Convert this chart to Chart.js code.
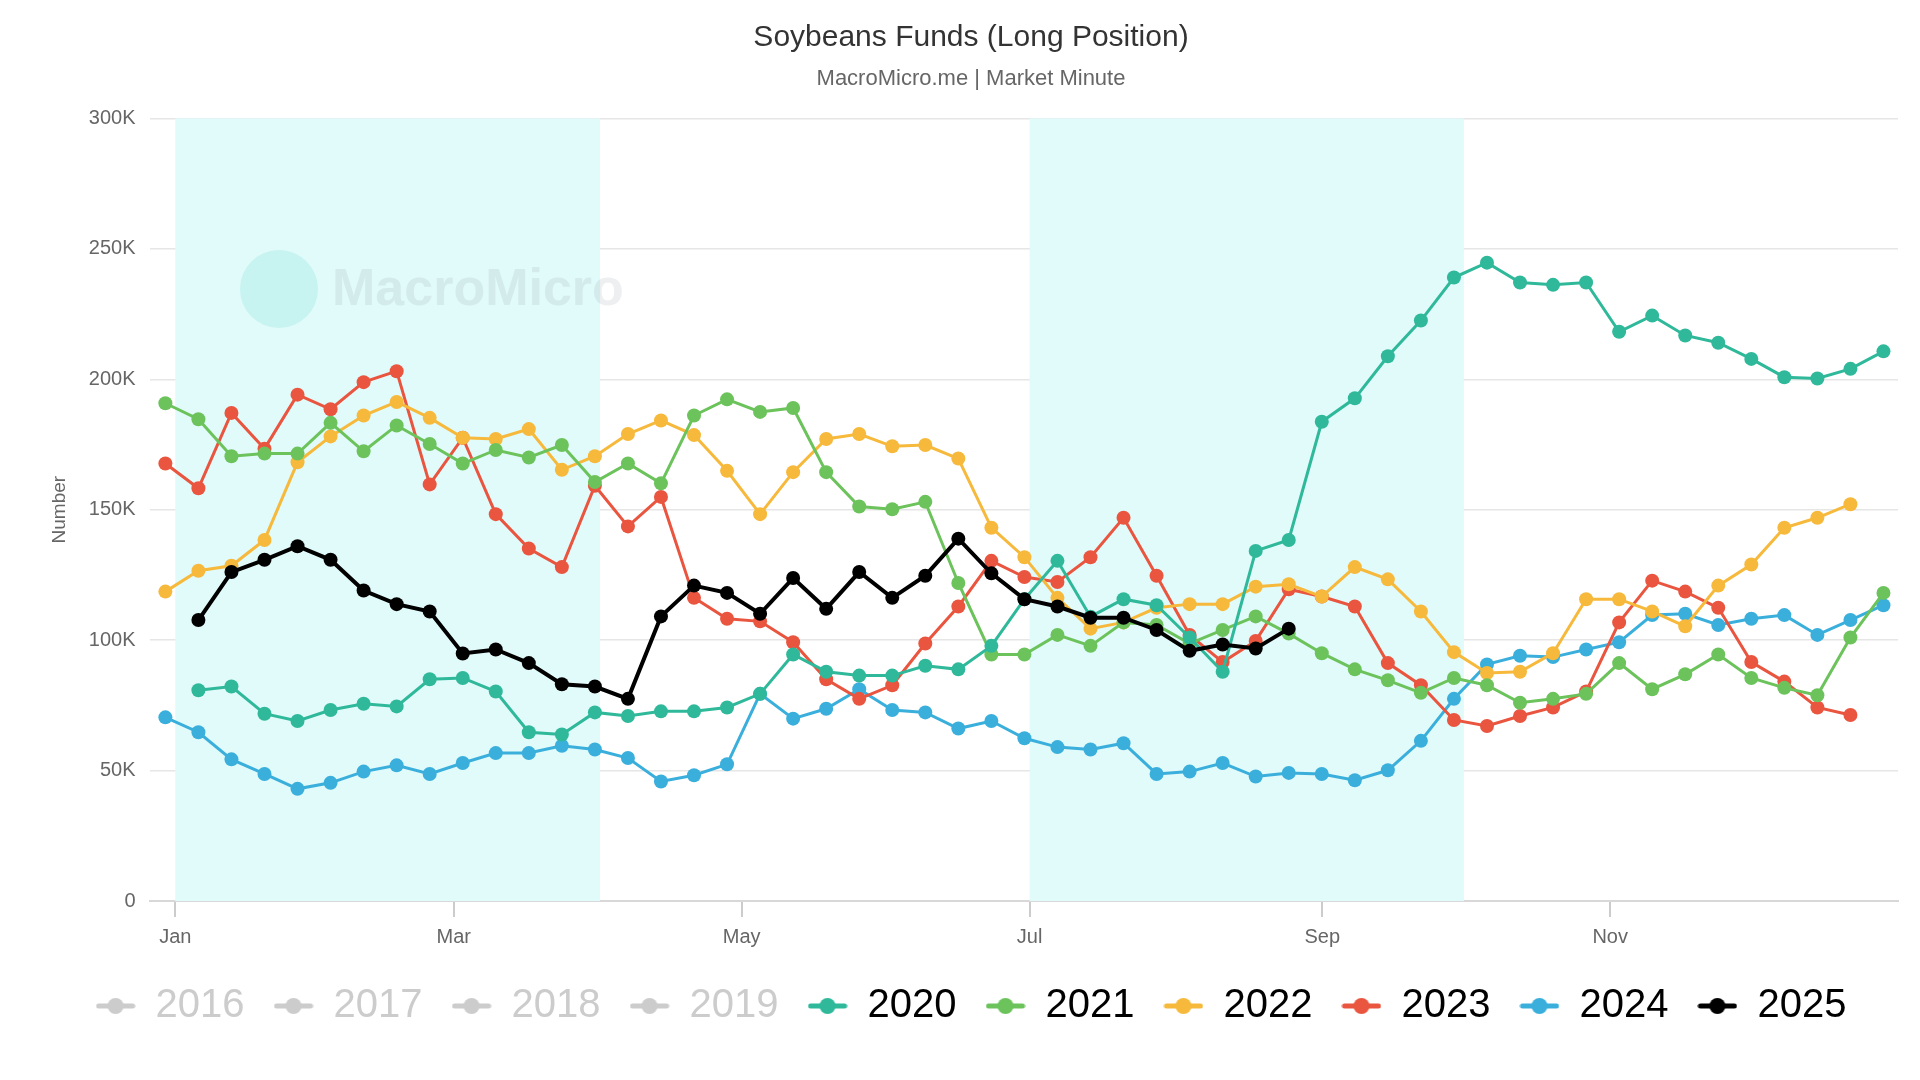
<!DOCTYPE html>
<html>
<head>
<meta charset="utf-8">
<script src="https://cdn.jsdelivr.net/npm/chart.js@4.4.1/dist/chart.umd.min.js"></script>
<style>
  html, body { margin: 0; padding: 0; background: #fff; }
  #wrap { width: 1920px; height: 1080px; }
</style>
</head>
<body>
<div id="wrap"><canvas id="chart" width="1920" height="1080"></canvas></div>
<script>
// weekly positions: index 0..52, values in thousands
const years = ['2016', '2017', '2018', '2019', '2020', '2021', '2022', '2023', '2024', '2025'];
const hiddenYears = ['2016', '2017', '2018', '2019'];
const colors = {
  '2016': '#cccccc', '2017': '#cccccc', '2018': '#cccccc', '2019': '#cccccc',
  '2020': '#2fb99a', '2021': '#6cc35c', '2022': '#f6b93b', '2023': '#e9553f',
  '2024': '#3aafdc', '2025': '#000000'
};

const s2020 = [null, 80.8, 82.2, 71.8, 69, 73.2, 75.6, 74.6, 85, 85.5, 80.3, 64.7, 63.8, 72.3, 70.9, 72.7, 72.7, 74.2, 79.4, 94.5, 87.9,
  86.4, 86.4, 90.2, 88.8, 97.8, 115.7, 130.4, 109, 115.7, 113.4, 101, 87.9, 134.2, 138.4, 183.7, 192.7, 208.8, 222.5, 239, 244.7,
  237.1, 236.2, 237.1, 218.2, 224.4, 216.8, 214, 207.8, 200.8, 200.3, 204, 210.7];
const s2021 = [190.8, 184.7, 170.5, 171.5, 171.5, 183.3, 172.4, 182.3, 175.2, 167.7, 172.9, 170, 174.8, 160.6, 167.7, 160.1, 186.1,
  192.3, 187.5, 189, 164.4, 151.2, 150.2, 153, 121.9, 94.5, 94.5, 102, 97.8, 106.8, 105.8, 98.7, 103.9, 109.1, 102.5, 95, 88.8,
  84.6, 79.8, 85.5, 82.7, 76, 77.5, 79.4, 91.2, 81.2, 86.9, 94.5, 85.5, 81.7, 78.9, 101, 118.1];
const s2022 = [118.6, 126.6, 128.5, 138.4, 168.2, 178.1, 186.1, 191.3, 185.2, 177.6, 177.1, 180.9, 165.3, 170.5, 179, 184.2, 178.6,
  164.9, 148.3, 164.4, 177.1, 179, 174.3, 174.8, 169.6, 143.1, 131.8, 116.2, 104.4, 106.8, 112.4, 113.8, 113.8, 120.5, 121.4,
  116.7, 128, 123.3, 111, 95.4, 87.4, 87.9, 95, 115.7, 115.7, 111, 105.3, 120.9, 129, 143.1, 146.9, 152.1, null];
const s2023 = [167.7, 158.2, 187.1, 173.4, 194.1, 188.5, 198.9, 203.1, 159.7, 177.6, 148.3, 135.1, 128, 159.2, 143.6, 154.9, 116.2,
  108.2, 107.2, 99.2, 85, 77.5, 82.7, 98.7, 112.9, 130.4, 124.2, 122.3, 131.8, 146.9, 124.7, 102, 91.6, 99.7, 119.5, 116.7, 112.9,
  91.2, 82.7, 69.4, 67.1, 70.9, 74.2, 80.3, 106.8, 122.8, 118.6, 112.4, 91.6, 84.1, 74.2, 71.3, null];
const s2024 = [70.4, 64.7, 54.3, 48.7, 43, 45.3, 49.6, 52, 48.7, 52.9, 56.7, 56.7, 59.5, 58.1, 54.8, 45.8, 48.2, 52.4, 79.4, 69.9,
  73.7, 81.2, 73.2, 72.3, 66.1, 69, 62.4, 59, 58.1, 60.5, 48.7, 49.6, 52.9, 47.7, 49.1, 48.7, 46.3, 50.1, 61.4, 77.5, 90.7, 94,
  93.5, 96.4, 99.2, 109.6, 110.1, 105.8, 108.2, 109.6, 102, 107.7, 113.4];
const s2025 = [null, 107.7, 126.1, 130.8, 136, 130.8, 119, 113.8, 111, 94.9, 96.4, 91.2, 83.1, 82.2, 77.5, 109.1, 120.9, 118.1,
  110.1, 123.8, 112, 126.1, 116.2, 124.7, 138.9, 125.6, 115.7, 112.9, 108.6, 108.6, 103.9, 95.9, 98.3, 96.8, 104.4];
const seriesByYear = { '2020': s2020, '2021': s2021, '2022': s2022, '2023': s2023, '2024': s2024, '2025': s2025 };

const monthLabels = ['Jan', 'Mar', 'May', 'Jul', 'Sep', 'Nov'];
const monthDays = [0, 59, 120, 181, 243, 304];  // day of year of month start
const bandDays = [[0, 90], [181, 273]];         // Jan-Mar, Jul-Sep
const dayToX = d => 0.3 + d / 7;
const FONT = '"Liberation Sans", Arial, sans-serif';

const legendIcon = (color) => {
  const c = document.createElement('canvas');
  c.width = 40; c.height = 18;
  const g = c.getContext('2d');
  g.strokeStyle = color; g.lineWidth = 5; g.lineCap = 'round';
  g.beginPath(); g.moveTo(3, 9); g.lineTo(37, 9); g.stroke();
  g.fillStyle = color;
  g.beginPath(); g.arc(20, 9, 8, 0, Math.PI * 2); g.fill();
  return c;
};

const datasets = years.map(y => {
  const vals = seriesByYear[y] || [];
  return {
    label: y,
    data: vals.map((v, i) => v === null ? null : { x: i, y: v * 1000 }).filter(p => p !== null),
    borderColor: colors[y],
    backgroundColor: colors[y],
    borderWidth: y === '2025' ? 4 : 3,
    pointRadius: 7,
    pointHoverRadius: 8,
    pointBorderWidth: 0,
    tension: 0,
    hidden: hiddenYears.includes(y),
    order: y === '2025' ? 0 : 1
  };
});

const bands = {
  id: 'bands',
  beforeDatasetsDraw(chart) {
    const { ctx, chartArea, scales } = chart;
    ctx.save();
    ctx.fillStyle = '#e1fafa';
    bandDays.forEach(([a, b]) => {
      const x1 = scales.x.getPixelForValue(dayToX(a));
      const x2 = scales.x.getPixelForValue(dayToX(b));
      ctx.fillRect(x1, chartArea.top, x2 - x1, chartArea.bottom - chartArea.top);
    });
    // watermark
    ctx.globalAlpha = 0.18;
    ctx.fillStyle = '#55d6c2';
    ctx.beginPath(); ctx.arc(279, 289, 39, 0, Math.PI * 2); ctx.fill();
    ctx.fillStyle = '#9aa7ad';
    ctx.font = 'bold 52px ' + FONT;
    ctx.textBaseline = 'middle';
    ctx.fillText('MacroMicro', 332, 291);
    ctx.restore();
  }
};

new Chart(document.getElementById('chart'), {
  type: 'line',
  data: { datasets },
  plugins: [bands],
  options: {
    responsive: false,
    animation: false,
    layout: { padding: { left: 44, right: 22, top: 6, bottom: 44 } },
    scales: {
      x: {
        type: 'linear',
        min: -0.48,
        max: 52.44,
        afterBuildTicks(axis) {
          axis.ticks = monthDays.map(d => ({ value: dayToX(d) }));
        },
        ticks: {
          autoSkip: false,
          maxRotation: 0,
          color: '#666',
          font: { size: 20, family: FONT },
          padding: 8,
          callback(value) {
            const i = monthDays.findIndex(d => Math.abs(dayToX(d) - value) < 1e-6);
            return i >= 0 ? monthLabels[i] : '';
          }
        },
        grid: { drawOnChartArea: false, color: '#ccc', tickLength: 16, lineWidth: 2 },
        border: { color: '#d8d8d8', width: 2 }
      },
      y: {
        min: 0,
        max: 300000,
        ticks: {
          stepSize: 50000,
          color: '#666',
          padding: 14,
          font: { size: 20, family: FONT },
          callback: v => v === 0 ? '0' : (v / 1000) + 'K'
        },
        grid: { color: '#e6e6e6', drawTicks: false, lineWidth: 1.5 },
        border: { display: false },
        title: {
          display: true,
          text: 'Number',
          color: '#666',
          font: { size: 19, family: FONT }
        }
      }
    },
    plugins: {
      title: {
        display: true,
        text: 'Soybeans Funds (Long Position)',
        color: '#333',
        font: { size: 30, weight: 'normal', family: FONT },
        padding: { top: 14, bottom: 10 }
      },
      subtitle: {
        display: true,
        text: 'MacroMicro.me | Market Minute',
        color: '#666',
        font: { size: 22, family: FONT },
        padding: { bottom: 26 }
      },
      legend: {
        position: 'bottom',
        labels: {
          usePointStyle: true,
          pointStyleWidth: 40,
          padding: 29,
          font: { size: 40, family: FONT },
          generateLabels(chart) {
            return chart.data.datasets.map((ds, i) => {
              const off = !chart.isDatasetVisible(i);
              const col = off ? '#cccccc' : ds.borderColor;
              return {
                text: ds.label,
                datasetIndex: i,
                hidden: false,
                fontColor: off ? '#cccccc' : '#000',
                pointStyle: legendIcon(col),
                fillStyle: col,
                strokeStyle: col,
                lineWidth: 0
              };
            });
          }
        }
      },
      tooltip: { enabled: true }
    }
  }
});
</script>
</body>
</html>
